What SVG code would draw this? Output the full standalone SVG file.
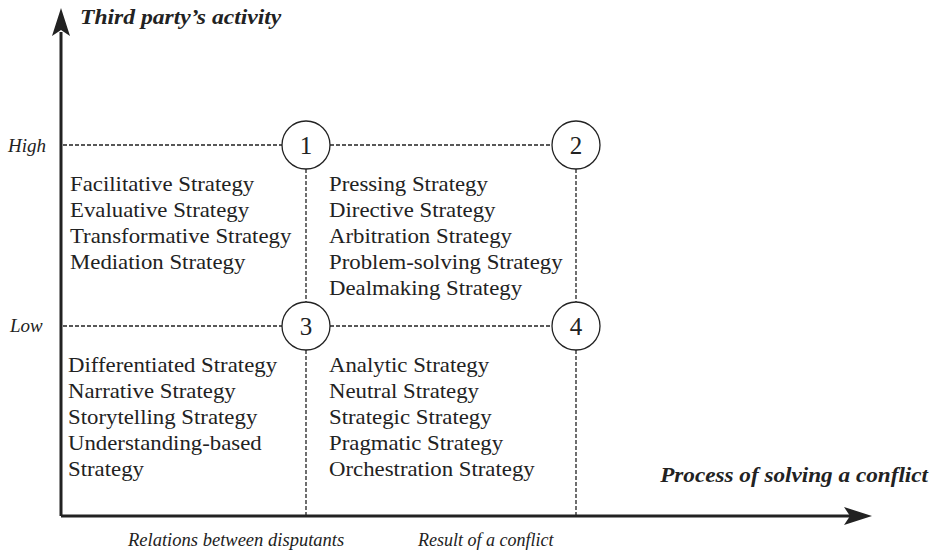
<svg xmlns="http://www.w3.org/2000/svg" width="933" height="556" viewBox="0 0 933 556">
<style>
.t{font-family:"Liberation Serif","Times New Roman",serif;font-size:20px;fill:#222}
.i{font-family:"Liberation Serif","Times New Roman",serif;font-size:18px;font-style:italic;fill:#222}
.b{font-family:"Liberation Serif","Times New Roman",serif;font-size:20px;font-style:italic;font-weight:bold;fill:#222}
.n{font-family:"Liberation Serif","Times New Roman",serif;font-size:25px;fill:#222;text-anchor:middle}
.d{stroke:#222;stroke-width:1.3;stroke-dasharray:4 2;fill:none}
.c{stroke:#222;stroke-width:1.3;fill:#fff}
.ax{stroke:#222;stroke-width:3;fill:none}
</style>
<g id="connectors">
<line class="d" x1="63" y1="145" x2="282" y2="145"/>
<line class="d" x1="330" y1="145" x2="552" y2="145"/>
<line class="d" x1="63" y1="326" x2="282" y2="326"/>
<line class="d" x1="330" y1="326" x2="552" y2="326"/>
<line class="d" x1="306" y1="169" x2="306" y2="302"/>
<line class="d" x1="306" y1="350" x2="306" y2="516"/>
<line class="d" x1="576" y1="169" x2="576" y2="302"/>
<line class="d" x1="576" y1="350" x2="576" y2="516"/>
<path d="M61,516 L61,32" class="ax"/>
<path d="M52,36 L61,8 L70,36 L61,30 Z" fill="#222"/>
<path d="M61,516 L850,516" class="ax"/>
<path d="M844,507 L872,516 L844,525 L850,516 Z" fill="#222"/>
</g>
<g id="axis-labels">
<text class="b" transform="translate(80,24) scale(1.18,1)" x="0" y="0">Third party’s activity</text>
<text class="b" transform="translate(928,482) scale(1.16,1)" x="0" y="0" text-anchor="end">Process of solving a conflict</text>
<text class="i" x="8" y="152" style="font-size:19px">High</text>
<text class="i" x="10" y="332" style="font-size:19px">Low</text>
<text class="i" transform="translate(128,546) scale(1.03,1)" x="0" y="0">Relations between disputants</text>
<text class="i" x="418" y="546">Result of a conflict</text>
</g>
<g id="node1"><circle class="c" cx="306" cy="145" r="24"/><text class="n" x="306" y="154">1</text></g>
<g id="node2"><circle class="c" cx="576" cy="145" r="24"/><text class="n" x="576" y="154">2</text></g>
<g id="node3"><circle class="c" cx="306" cy="326" r="24"/><text class="n" x="306" y="335">3</text></g>
<g id="node4"><circle class="c" cx="576" cy="326" r="24"/><text class="n" x="576" y="335">4</text></g>
<g id="quadrant1" transform="translate(70,0) scale(1.14,1)">
<text class="t" x="0" y="191">Facilitative Strategy</text>
<text class="t" x="0" y="217">Evaluative Strategy</text>
<text class="t" x="0" y="243">Transformative Strategy</text>
<text class="t" x="0" y="269">Mediation Strategy</text>
</g>
<g id="quadrant2" transform="translate(329,0) scale(1.14,1)">
<text class="t" x="0" y="191">Pressing Strategy</text>
<text class="t" x="0" y="217">Directive Strategy</text>
<text class="t" x="0" y="243">Arbitration Strategy</text>
<text class="t" x="0" y="269">Problem-solving Strategy</text>
<text class="t" x="0" y="295">Dealmaking Strategy</text>
</g>
<g id="quadrant3" transform="translate(68,0) scale(1.14,1)">
<text class="t" x="0" y="372">Differentiated Strategy</text>
<text class="t" x="0" y="398">Narrative Strategy</text>
<text class="t" x="0" y="424">Storytelling Strategy</text>
<text class="t" x="0" y="450">Understanding-based</text>
<text class="t" x="0" y="476">Strategy</text>
</g>
<g id="quadrant4" transform="translate(329,0) scale(1.14,1)">
<text class="t" x="0" y="372">Analytic Strategy</text>
<text class="t" x="0" y="398">Neutral Strategy</text>
<text class="t" x="0" y="424">Strategic Strategy</text>
<text class="t" x="0" y="450">Pragmatic Strategy</text>
<text class="t" x="0" y="476">Orchestration Strategy</text>
</g>
</svg>
